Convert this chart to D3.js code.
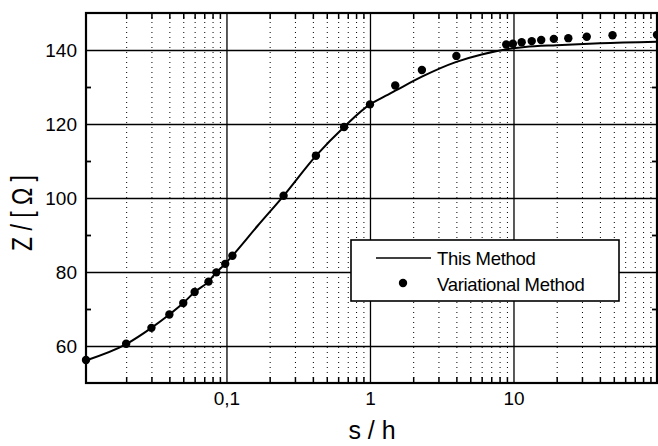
<!DOCTYPE html>
<html>
<head>
<meta charset="utf-8">
<script src="https://cdn.jsdelivr.net/npm/d3@7"></script>
<style>
  html, body { margin: 0; padding: 0; background: #fff; }
  svg { display: block; }
  text { font-family: "Liberation Sans", Arial, Helvetica, sans-serif; fill: #000; }
</style>
</head>
<body>
<svg id="chart" width="658" height="446"></svg>
<script>
// ---- data ----
const lineS = [0.0105, 0.02, 0.03, 0.04, 0.05, 0.06, 0.075, 0.085, 0.098, 0.11, 0.165, 0.25, 0.42, 0.66, 1.0, 1.2, 1.5, 2.3, 4, 6, 9, 12, 20, 40, 100];
const lineZ = [56.1, 60.5, 64.9, 68.5, 71.6, 74.6, 77.4, 79.9, 82.2, 84.4, 92.5, 100.6, 111.4, 119.2, 125.3, 127.0, 129.0, 132.8, 136.8, 138.8, 140.2, 140.8, 141.3, 141.8, 142.2];

const varS = [0.0105, 0.02, 0.03, 0.04, 0.05, 0.06, 0.075, 0.085, 0.098, 0.11, 0.25, 0.42, 0.66, 1.0, 1.5, 2.3, 4, 8.9, 9.9, 11.4, 13.4, 15.6, 19.1, 24.1, 32.4, 49, 100];
const varZ = [56.2, 60.6, 64.9, 68.5, 71.6, 74.6, 77.4, 79.9, 82.2, 84.4, 100.6, 111.4, 119.2, 125.3, 130.4, 134.6, 138.4, 141.5, 141.7, 142.1, 142.4, 142.7, 143.0, 143.2, 143.6, 144.0, 144.1];

const xMajorTicks = [0.1, 1, 10];
const xTickLabels = ["0,1", "1", "10"];
const yMajorTicks = [60, 80, 100, 120, 140];
const yMinorTicks = [70, 90, 110, 130];
const seriesNames = ["This Method", "Variational Method"];
const xTitle = "s / h";
const yTitle = "Z / [ \u03A9 ]";

// ---- layout ----
const L = 86, R = 657, T = 13, B = 383;
const svg = d3.select("#chart");
const x = d3.scaleLog().domain([0.0105, 100]).range([L, R]);
const y = d3.scaleLinear().domain([50, 150]).range([B, T]);

const xMinor = [];
[0.01, 0.1, 1, 10].forEach(d => { for (let k = 2; k <= 9; k++) { const v = d * k; if (v > 0.0105 && v < 100) xMinor.push(v); } });

// dotted minor vertical grid
svg.append("g").attr("transform", `translate(0,${B})`)
  .call(d3.axisBottom(x).tickValues(xMinor).tickSize(-(B - T)).tickFormat(""))
  .call(g => g.select(".domain").remove())
  .call(g => g.selectAll("line").attr("stroke", "#000").attr("stroke-width", 1).attr("stroke-dasharray", "1,4"));

// major grid
svg.append("g").attr("transform", `translate(0,${B})`)
  .call(d3.axisBottom(x).tickValues(xMajorTicks).tickSize(-(B - T)).tickFormat(""))
  .call(g => g.select(".domain").remove())
  .call(g => g.selectAll("line").attr("stroke", "#000").attr("stroke-width", 1.3));
svg.append("g").attr("transform", `translate(${L},0)`)
  .call(d3.axisLeft(y).tickValues(yMajorTicks).tickSize(-(R - L)).tickFormat(""))
  .call(g => g.select(".domain").remove())
  .call(g => g.selectAll("line").attr("stroke", "#000").attr("stroke-width", 1.3));

// minor ticks (inward)
svg.append("g").attr("transform", `translate(0,${B})`)
  .call(d3.axisBottom(x).tickValues(xMinor).tickSize(-6).tickFormat(""))
  .call(g => g.select(".domain").remove())
  .call(g => g.selectAll("line").attr("stroke", "#000").attr("stroke-width", 1.5));
svg.append("g").attr("transform", `translate(0,${T})`)
  .call(d3.axisTop(x).tickValues(xMinor).tickSize(-6).tickFormat(""))
  .call(g => g.select(".domain").remove())
  .call(g => g.selectAll("line").attr("stroke", "#000").attr("stroke-width", 1.5));
svg.append("g").attr("transform", `translate(${L},0)`)
  .call(d3.axisLeft(y).tickValues(yMinorTicks).tickSize(-5).tickFormat(""))
  .call(g => g.select(".domain").remove())
  .call(g => g.selectAll("line").attr("stroke", "#000").attr("stroke-width", 1.8));
svg.append("g").attr("transform", `translate(${R},0)`)
  .call(d3.axisRight(y).tickValues(yMinorTicks).tickSize(-5).tickFormat(""))
  .call(g => g.select(".domain").remove())
  .call(g => g.selectAll("line").attr("stroke", "#000").attr("stroke-width", 1.8));

// tick labels
svg.append("g").attr("transform", `translate(0,${B})`)
  .call(d3.axisBottom(x).tickValues(xMajorTicks).tickSize(0).tickPadding(9)
    .tickFormat((d, i) => xTickLabels[i]))
  .call(g => g.select(".domain").remove())
  .call(g => g.selectAll("text").attr("font-size", 19).attr("font-family", "Liberation Sans, Arial, sans-serif").attr("fill", "#000"));
svg.append("g").attr("transform", `translate(${L},0)`)
  .call(d3.axisLeft(y).tickValues(yMajorTicks).tickSize(0).tickPadding(9).tickFormat(d3.format("d")))
  .call(g => g.select(".domain").remove())
  .call(g => g.selectAll("text").attr("font-size", 19).attr("font-family", "Liberation Sans, Arial, sans-serif").attr("fill", "#000"));

// frame
svg.append("rect").attr("x", L).attr("y", T).attr("width", R - L).attr("height", B - T)
  .attr("fill", "none").attr("stroke", "#000").attr("stroke-width", 2.2);

// axis titles
svg.append("text").attr("x", 372).attr("y", 439).attr("text-anchor", "middle")
  .attr("font-size", 25).text(xTitle);
svg.append("text").attr("transform", "translate(32,213) rotate(-90) scale(1,1.3)").attr("text-anchor", "middle")
  .attr("font-size", 23).text(yTitle);

// line
const lineData = lineS.map((s, i) => ({ s, z: lineZ[i] }));
svg.append("path").datum(lineData)
  .attr("d", d3.line().x(d => x(d.s)).y(d => y(d.z)).curve(d3.curveMonotoneX))
  .attr("fill", "none").attr("stroke", "#000").attr("stroke-width", 2);

// points
const varData = varS.map((s, i) => ({ s, z: varZ[i] }));
svg.append("g").selectAll("circle").data(varData).join("circle")
  .attr("cx", d => x(d.s)).attr("cy", d => y(d.z)).attr("r", 4.2).attr("fill", "#000");

// legend
const lg = svg.append("g");
lg.append("rect").attr("x", 351).attr("y", 240).attr("width", 268).attr("height", 61)
  .attr("fill", "#fff").attr("stroke", "#000").attr("stroke-width", 1.6);
lg.append("line").attr("x1", 376).attr("x2", 431).attr("y1", 258).attr("y2", 258)
  .attr("stroke", "#000").attr("stroke-width", 1.6);
lg.append("circle").attr("cx", 403).attr("cy", 283).attr("r", 4.2).attr("fill", "#000");
lg.append("text").attr("x", 437).attr("y", 265).attr("font-size", 18.5).attr("letter-spacing", -0.3).text(seriesNames[0]);
lg.append("text").attr("x", 437).attr("y", 291).attr("font-size", 18.5).attr("letter-spacing", -0.3).text(seriesNames[1]);
</script>
</body>
</html>
